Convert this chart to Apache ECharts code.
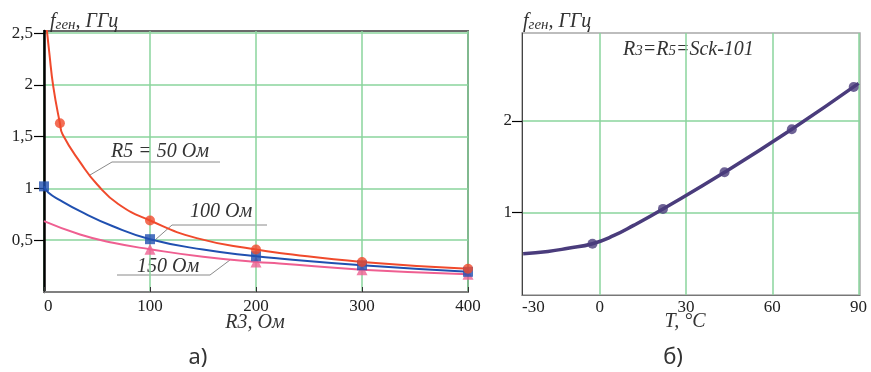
<!DOCTYPE html>
<html><head><meta charset="utf-8">
<script src="https://cdn.jsdelivr.net/npm/echarts@6/dist/echarts.min.js"></script>
<style>html,body{margin:0;padding:0;background:#fff}#c{width:871px;height:372px}</style>
</head><body><div id="c"></div>
<script>
// ---- Chart a): f_gen vs R3 for three values of R5 ----
const redR3  = [2, 5, 8.8, 15, 17.6, 35, 50, 70, 100, 144, 200, 222, 300, 400];
const redF   = [2.6, 2.31, 1.98, 1.63, 1.52, 1.24, 1.04, 0.85, 0.69, 0.52, 0.41, 0.377, 0.29, 0.225];
const blueR3 = [0, 4, 15, 34, 65, 100, 150, 200, 222, 300, 400];
const blueF  = [1.02, 0.96, 0.887, 0.78, 0.635, 0.51, 0.41, 0.345, 0.323, 0.258, 0.195];
const pinkR3 = [0, 34, 65, 100, 150, 200, 222, 300, 400];
const pinkF  = [0.684, 0.555, 0.475, 0.413, 0.34, 0.29, 0.275, 0.215, 0.172];
const redMarkR3  = [15, 100, 200, 300, 400];
const redMarkF   = [1.63, 0.69, 0.41, 0.29, 0.225];
const blueMarkR3 = [0, 100, 200, 300, 400];
const blueMarkF  = [1.02, 0.51, 0.345, 0.258, 0.195];
const pinkMarkR3 = [100, 200, 300, 400];
const pinkMarkF  = [0.413, 0.29, 0.215, 0.172];
const xTicksA = [0, 100, 200, 300, 400];
const yTicksA = [0.5, 1, 1.5, 2, 2.5];

// ---- Chart b): f_gen vs temperature ----
const tempT = [-26.6, -18, -11, -2.5, 5, 11.8, 22, 43.4, 66.8, 90];
const tempF = [0.55, 0.575, 0.61, 0.66, 0.75, 0.86, 1.04, 1.44, 1.91, 2.41];
const tempMarkT = [-2.5, 22, 43.4, 66.8, 88.3];
const tempMarkF = [0.66, 1.04, 1.44, 1.91, 2.37];
const xTicksB = [0, 30, 60, 90];
const xFirstLabelB = '-30';
const yTicksB = [1, 2];

const pairs = (xs, ys) => xs.map((x, i) => [x, ys[i]]);

const SERIF = 'Liberation Serif';
const GREEN = '#8ad49c';
const RED = '#f04a2c', BLUE = '#2050b0', PINK = '#ef5f91', PURPLE = '#4a3c7c';

const chart = echarts.init(document.getElementById('c'), null, {renderer: 'canvas'});
const xMinB = -27, xMaxB = 90.5;

const option = {
  animation: false,
  backgroundColor: '#fff',
  grid: [
    {left: 44, top: 31, width: 424, height: 261, show: true, borderColor: '#6a6a6a', borderWidth: 2, backgroundColor: 'transparent'},
    {left: 522, top: 33, width: 338, height: 262, show: true, borderColor: '#a8a8a8', borderWidth: 1.5, backgroundColor: 'transparent'}
  ],
  xAxis: [
    {type: 'value', gridIndex: 0, min: 0, max: 400, interval: 100,
     axisLine: {show: true, onZero: false, lineStyle: {color: '#808080', width: 2}},
     axisTick: {show: true, inside: true, length: 5, lineStyle: {color: '#333'}},
     axisLabel: {margin: 6, fontFamily: SERIF, fontSize: 17, color: '#222', customValues: xTicksA, alignMinLabel: 'left'},
     splitLine: {show: true, lineStyle: {color: GREEN, width: 1.5}}},
    {type: 'value', gridIndex: 1, min: xMinB, max: xMaxB,
     axisLine: {show: true, onZero: false, lineStyle: {color: '#777', width: 1}},
     axisTick: {show: false, customValues: xTicksB},
     axisLabel: {margin: 4, fontFamily: SERIF, fontSize: 17, color: '#222',
       customValues: [xMinB].concat(xTicksB), alignMinLabel: 'left',
       formatter: v => (v === xMinB ? xFirstLabelB : String(v))},
     splitLine: {show: true, lineStyle: {color: GREEN, width: 1.5}}}
  ],
  yAxis: [
    {type: 'value', gridIndex: 0, min: 0, max: 2.52, interval: 0.5,
     axisLine: {show: true, onZero: false, lineStyle: {color: '#000', width: 2.5}},
     axisTick: {show: true, length: 10, lineStyle: {color: '#000', width: 1.2}, customValues: yTicksA},
     axisLabel: {margin: 11, fontFamily: SERIF, fontSize: 17, color: '#222', customValues: yTicksA,
       formatter: v => String(v).replace('.', ',')},
     splitLine: {show: true, lineStyle: {color: GREEN, width: 1.5}}},
    {type: 'value', gridIndex: 1, min: 0.1, max: 2.96,
     axisLine: {show: true, onZero: false, lineStyle: {color: '#444', width: 1}},
     axisTick: {show: true, length: 10, lineStyle: {color: '#000', width: 1.2}, customValues: yTicksB},
     axisLabel: {margin: 10, fontFamily: SERIF, fontSize: 17, color: '#222', customValues: yTicksB},
     splitLine: {show: true, lineStyle: {color: GREEN, width: 1.5}}}
  ],
  series: [
    {type: 'line', xAxisIndex: 0, yAxisIndex: 0, data: pairs(pinkR3, pinkF), smooth: 0.5, showSymbol: false, lineStyle: {color: PINK, width: 2}, z: 3},
    {type: 'line', xAxisIndex: 0, yAxisIndex: 0, data: pairs(blueR3, blueF), smooth: 0.5, showSymbol: false, lineStyle: {color: BLUE, width: 2}, z: 4},
    {type: 'line', xAxisIndex: 0, yAxisIndex: 0, data: pairs(redR3, redF), smooth: 0.5, showSymbol: false, lineStyle: {color: RED, width: 2}, z: 5},
    {type: 'scatter', xAxisIndex: 0, yAxisIndex: 0, data: pairs(pinkMarkR3, pinkMarkF), symbol: 'triangle', symbolSize: 11, itemStyle: {color: PINK}, clip: false, z: 6},
    {type: 'scatter', xAxisIndex: 0, yAxisIndex: 0, data: pairs(blueMarkR3, blueMarkF), symbol: 'rect', symbolSize: 10, itemStyle: {color: BLUE}, clip: false, z: 7},
    {type: 'scatter', xAxisIndex: 0, yAxisIndex: 0, data: pairs(redMarkR3, redMarkF), symbol: 'circle', symbolSize: 10, itemStyle: {color: RED}, clip: false, z: 8},
    {type: 'line', xAxisIndex: 1, yAxisIndex: 1, data: pairs(tempT, tempF), smooth: 0.5, showSymbol: false, lineStyle: {color: PURPLE, width: 3.5}, z: 5},
    {type: 'scatter', xAxisIndex: 1, yAxisIndex: 1, data: pairs(tempMarkT, tempMarkF), symbol: 'circle', symbolSize: 10, itemStyle: {color: PURPLE}, clip: false, z: 6}
  ],
  graphic: [
    {type: 'text', left: 50, top: 12, style: {text: '{a|f}{s|ген}{a|, ГГц}', rich: {
      a: {fontFamily: SERIF, fontStyle: 'italic', fontSize: 20, fill: '#333'},
      s: {fontFamily: SERIF, fontStyle: 'italic', fontSize: 15, fill: '#333', padding: [6, 0, 0, 0]}}}},
    {type: 'text', left: 523, top: 12, style: {text: '{a|f}{s|ген}{a|, ГГц}', rich: {
      a: {fontFamily: SERIF, fontStyle: 'italic', fontSize: 20, fill: '#333'},
      s: {fontFamily: SERIF, fontStyle: 'italic', fontSize: 15, fill: '#333', padding: [6, 0, 0, 0]}}}},
    {type: 'text', x: 255, y: 323, style: {text: 'R3, Ом', font: 'italic 20px "Liberation Serif"', fill: '#333', align: 'center', verticalAlign: 'middle'}},
    {type: 'text', x: 685, y: 322, style: {text: 'T, °C', font: 'italic 20px "Liberation Serif"', fill: '#333', align: 'center', verticalAlign: 'middle'}},
    {type: 'text', x: 198, y: 358, style: {text: 'а)', font: '22px "Noto Sans"', fill: '#333', align: 'center', verticalAlign: 'middle'}},
    {type: 'text', x: 673, y: 358, style: {text: 'б)', font: '22px "Noto Sans"', fill: '#333', align: 'center', verticalAlign: 'middle'}},
    {type: 'text', x: 111, y: 152, style: {text: 'R5 = 50 Ом', font: 'italic 20px "Liberation Serif"', fill: '#333', verticalAlign: 'middle'}},
    {type: 'polyline', shape: {points: [[90, 175], [112, 162], [220, 162]]}, style: {stroke: '#8a8a8a', lineWidth: 1, fill: null}},
    {type: 'text', x: 190, y: 212, style: {text: '100 Ом', font: 'italic 20px "Liberation Serif"', fill: '#333', verticalAlign: 'middle'}},
    {type: 'polyline', shape: {points: [[155, 240], [172, 225], [267, 225]]}, style: {stroke: '#8a8a8a', lineWidth: 1, fill: null}},
    {type: 'text', x: 137, y: 267, style: {text: '150 Ом', font: 'italic 20px "Liberation Serif"', fill: '#333', verticalAlign: 'middle'}},
    {type: 'polyline', shape: {points: [[117, 275], [210, 275], [230, 260]]}, style: {stroke: '#8a8a8a', lineWidth: 1, fill: null}},
    {type: 'text', left: 623, top: 40, style: {text: '{a|R}{s|3}{a|=R}{s|5}{a|=Sck-101}', rich: {
      a: {fontFamily: SERIF, fontStyle: 'italic', fontSize: 20, fill: '#333'},
      s: {fontFamily: SERIF, fontStyle: 'italic', fontSize: 15, fill: '#333', padding: [3, 0, 0, 0]}}}}
  ]
};
chart.setOption(option);
</script>
</body></html>
